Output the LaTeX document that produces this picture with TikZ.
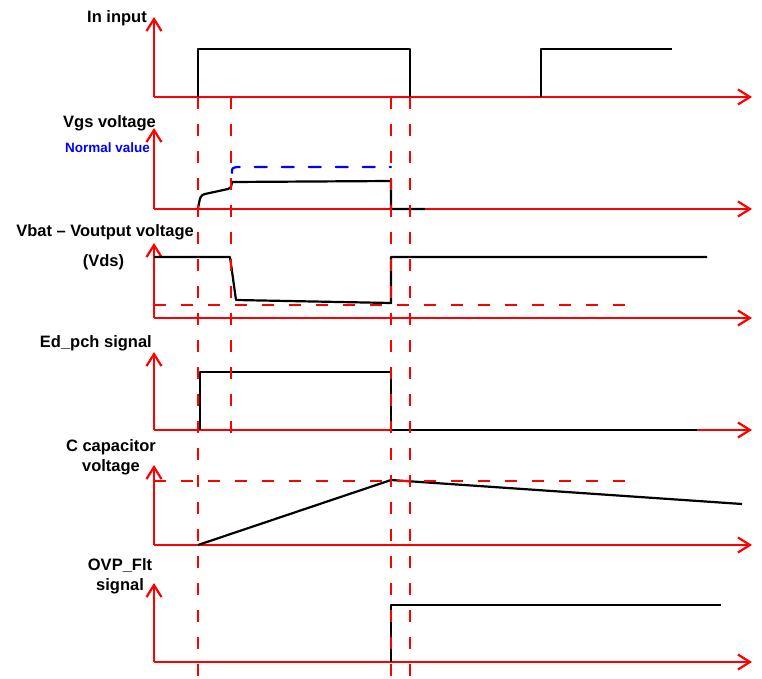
\documentclass[tikz,border=0pt]{standalone}
\usepackage{fontspec}
\setmainfont{Liberation Sans}
\usetikzlibrary{arrows.meta}
\definecolor{axred}{RGB}{255,0,0}
\definecolor{nblue}{RGB}{0,0,255}
\tikzset{
  axis/.style={draw=axred, line width=2.2pt, -{Straight Barb[length=12pt,width=15pt,line width=2.2pt]}},
  sig/.style={draw=black, line width=2.2pt, line join=round},
  guide/.style={draw=axred, line width=2.2pt, dash pattern=on 12pt off 15pt},
  nval/.style={draw=nblue, line width=2.2pt, dash pattern=on 12pt off 15pt, line cap=round},
  lab/.style={font=\bfseries\fontsize{16.5}{18}\selectfont, inner sep=0pt, text=black},
  blab/.style={font=\bfseries\fontsize{13.5}{15}\selectfont, inner sep=0pt, text=nblue},
}
\begin{document}
\begin{tikzpicture}[x=1pt,y=-1pt]
\useasboundingbox (0,0) rectangle (762,679);
% axis origins
\coordinate (o1) at (154,97);
\coordinate (o2) at (154,209);
\coordinate (o3) at (154,318);
\coordinate (o4) at (154,430);
\coordinate (o5) at (154,545);
\coordinate (o6) at (154,662);
% low segment of input, mostly under the axis
\draw[draw=black!35, line width=0.8pt] (410,96) -- (541,96);
% axes
\foreach \o/\t in {o1/17, o2/128, o3/243, o4/352, o5/465, o6/583}{
  \draw[axis] (\o) -- (154,\t);
  \draw[axis] (\o) -- ++(598,0);
}
% labels
\node[lab, anchor=east] (l1) at (147,18) {In input};
\node[lab, anchor=east] (l2) at (156,123) {Vgs voltage};
\node[blab, anchor=east] (l2b) at (150,148) {Normal value};
\node[lab, anchor=east] (l3) at (194,232) {Vbat -- Voutput voltage};
\node[lab] (l3b) at (103.5,262) {(Vds)};
\node[lab, anchor=east] (l4) at (152,343) {Ed\_pch signal};
\node[lab, align=center] (l5) at (111,457.5) {C capacitor\\[2pt]voltage};
\node[lab, align=center] (l6) at (120,576) {OVP\_Flt\\[2pt]signal};
% signals
\draw[sig] (198,97) -- (198,49) -- (410,49) -- (410,97);
\draw[sig] (541,97) -- (541,49) -- (672,49);
\draw[nval] (232,173) .. controls (232,168) .. (237,167) -- (391,167);
\draw[sig] (198,209) .. controls (200,196) and (201,195) .. (205,194) -- (228,189) .. controls (231,188) .. (232,182) -- (391,181) -- (391,209) -- (425,209);
\draw[sig] (154,257) -- (230,257) -- (236,300) -- (391,303) -- (391,257) -- (707,257);
\draw[sig] (200,430) -- (200,372) -- (391,372) -- (391,430) -- (697,430);
\draw[sig] (198,545) -- (391,480) -- (742,504);
\draw[sig] (391,662) -- (391,605) -- (721,605);
% guides
\draw[guide] (154,305) -- (627,305);
\draw[guide] (154,481) -- (627,481);
\draw[guide] (198,97) -- (198,679);
\draw[guide] (231,97) -- (231,445);
\draw[guide] (391,97) -- (391,679);
\draw[guide] (410,97) -- (410,679);
\end{tikzpicture}
\end{document}
